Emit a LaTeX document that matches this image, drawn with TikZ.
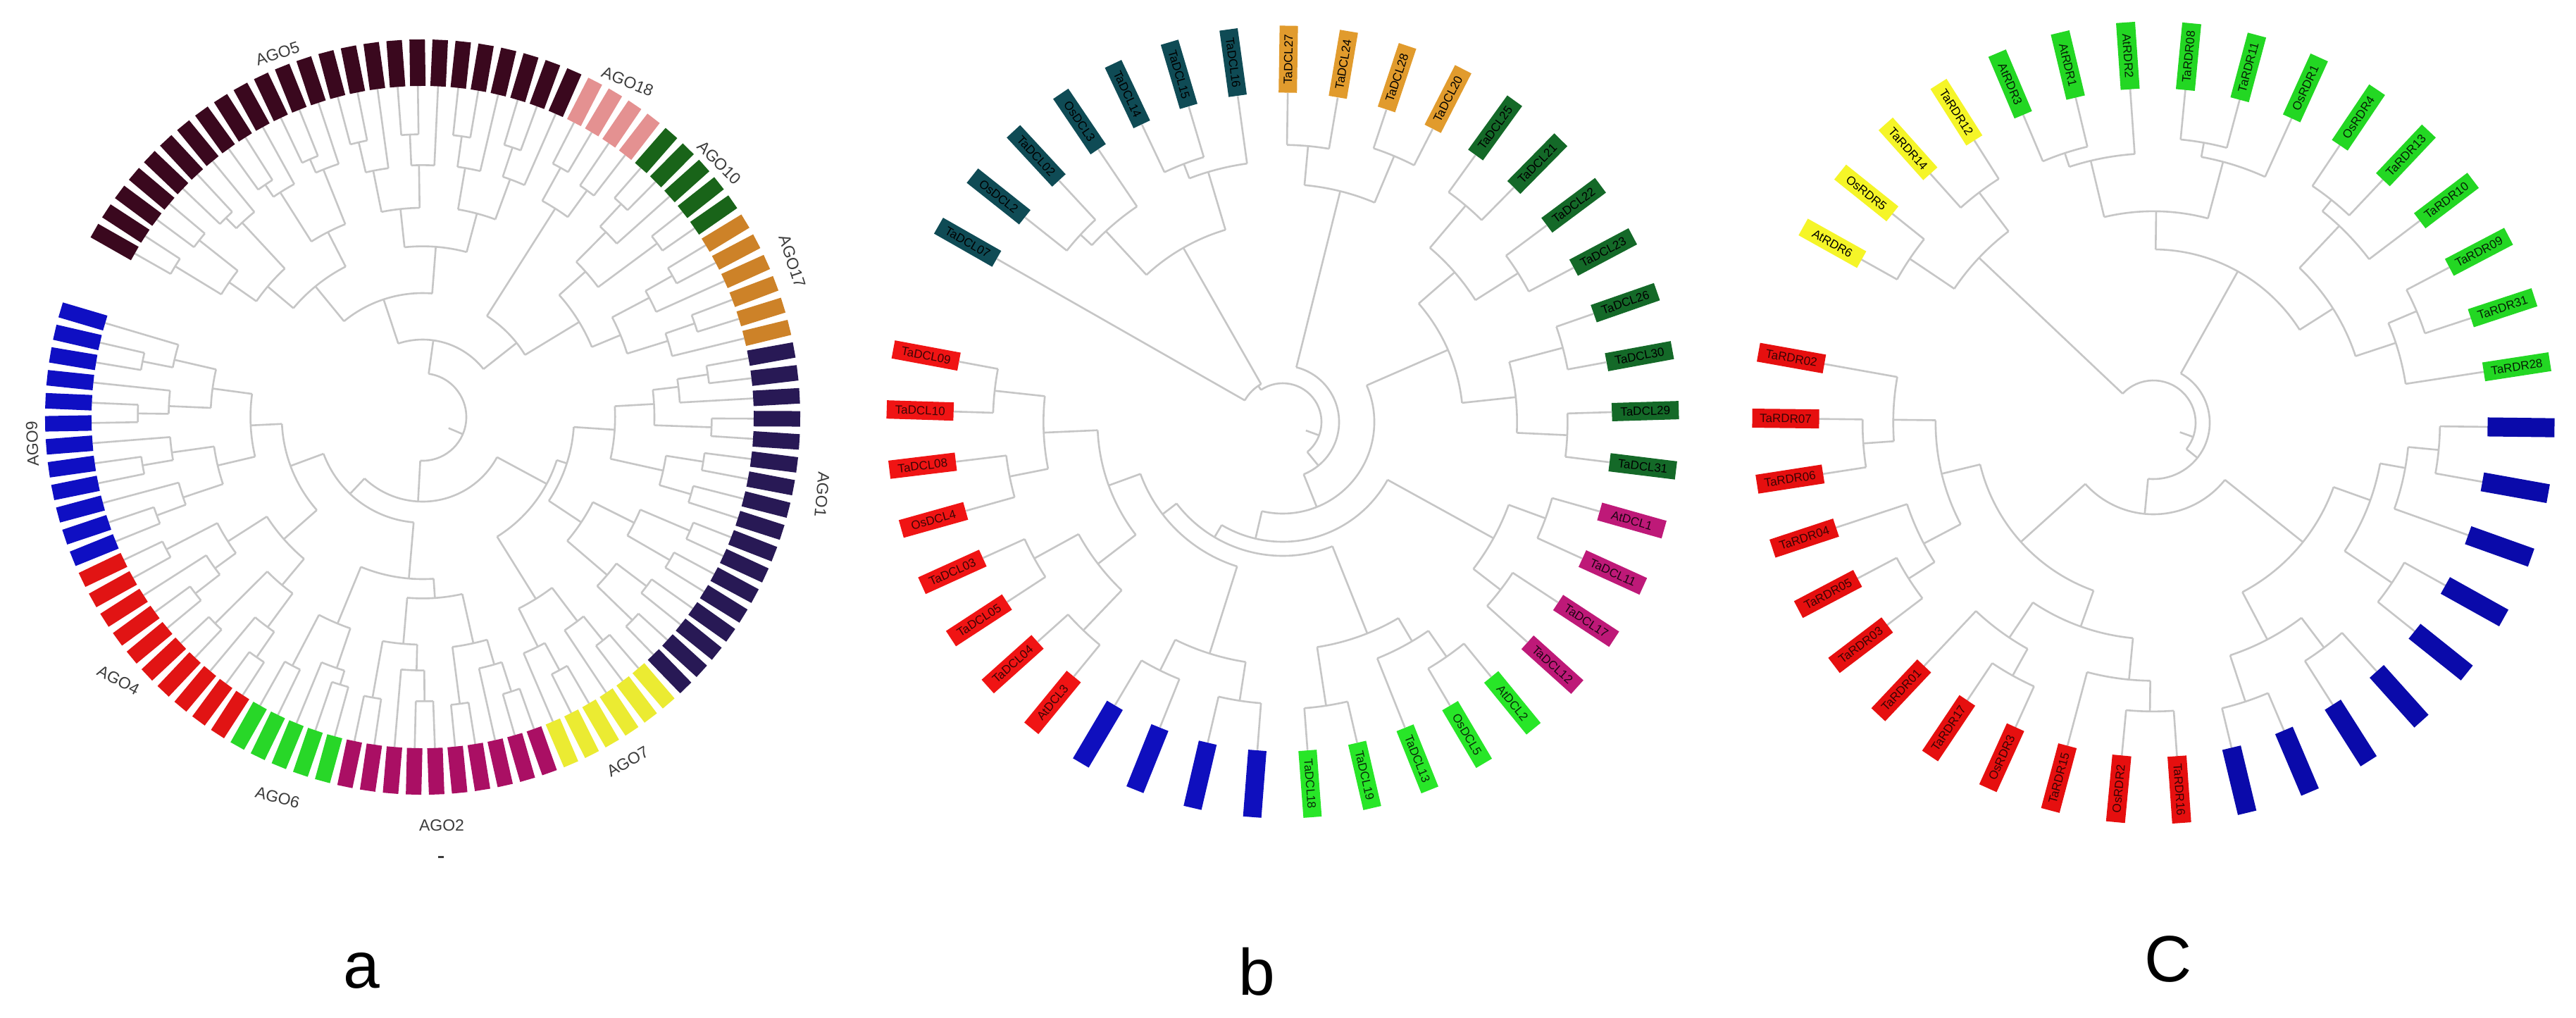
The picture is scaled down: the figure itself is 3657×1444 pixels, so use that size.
\documentclass[tikz,border=0pt]{standalone}
\usepackage{fontspec}
\setmainfont{Liberation Sans}
\definecolor{brgray}{RGB}{198,198,198}
\definecolor{labgray}{RGB}{60,60,60}
\definecolor{agoV}{RGB}{58,8,30}
\definecolor{agoXVIII}{RGB}{228,145,145}
\definecolor{agoX}{RGB}{25,100,25}
\definecolor{agoXVII}{RGB}{205,130,40}
\definecolor{agoI}{RGB}{40,25,85}
\definecolor{agoVII}{RGB}{235,235,50}
\definecolor{agoII}{RGB}{170,15,100}
\definecolor{agoVI}{RGB}{40,215,40}
\definecolor{agoIV}{RGB}{225,20,20}
\definecolor{agoIX}{RGB}{15,15,195}
\definecolor{bteal}{RGB}{15,75,85}
\definecolor{borange}{RGB}{225,155,45}
\definecolor{bdkgreen}{RGB}{20,105,40}
\definecolor{bmagenta}{RGB}{190,25,120}
\definecolor{bgreen}{RGB}{40,230,40}
\definecolor{bblue}{RGB}{15,15,190}
\definecolor{bred}{RGB}{240,20,20}
\definecolor{cyellow}{RGB}{245,245,40}
\definecolor{cgreen}{RGB}{35,215,35}
\definecolor{cblue}{RGB}{10,10,170}
\definecolor{cred}{RGB}{230,15,15}
\tikzset{
  br/.style={draw=brgray, line width=2.6pt},
  boxtext/.style={inner sep=0pt, font=\fontsize{17}{17}\selectfont},
  grouplab/.style={font=\fontsize{23}{23}\selectfont, text=labgray, inner sep=0pt},
  panlab/.style={font=\fontsize{93}{93}\selectfont, inner sep=0pt, anchor=base}
}
% explicit internal node: range #1..#3 split after #2, radius #4, parent radius #5
\newcommand\clade[5]{%
  \pgfmathsetmacro\ca{\pst-(#1+#3)/2*\pstep}%
  \pgfmathsetmacro\caa{\pst-(#1+#2)/2*\pstep}%
  \pgfmathsetmacro\cab{\pst-(#2+1+#3)/2*\pstep}%
  \draw[br] (\ca:#5pt) -- (\ca:#4pt);
  \draw[br] (\caa:#4pt) arc[start angle=\caa, end angle=\cab, radius=#4pt];
}
% recursive subtree over leaves #1..#2 hanging from radius #3
\newcommand\subtree[3]{%
  \ifnum#1=#2\relax
    \pgfmathsetmacro\sa{\pst-#1*\pstep}%
    \draw[br] (\sa:#3pt) -- (\sa:\pleaf pt);
  \else
    \pgfmathtruncatemacro\sk{floor((#1+#2)/2)}%
    \pgfmathsetmacro\sa{\pst-(#1+#2)/2*\pstep}%
    \pgfmathsetmacro\saa{\pst-(#1+\sk)/2*\pstep}%
    \pgfmathsetmacro\sab{\pst-(\sk+1+#2)/2*\pstep}%
    \pgfmathsetmacro\sr{max(#3+15, min(\pleaf-25, \pleaf-\pspan*ln(#2-#1+1)/ln(\pnmax)+mod(#1*37+#2*17,23)-11))}%
    \draw[br] (\sa:#3pt) -- (\sa:\sr pt);
    \draw[br] (\saa:\sr pt) arc[start angle=\saa, end angle=\sab, radius=\sr pt];
    \edef\snext{\noexpand\subtree{#1}{\sk}{\sr}\noexpand\subtree{\the\numexpr\sk+1\relax}{#2}{\sr}}%
    \snext
  \fi}
% coloured leaf box shape: prefix, index, fill
\newcommand\leafshape[3]{%
  \pgfmathsetmacro\la{\pst-#2*\pstep}%
  \pgfmathsetmacro\lrot{cos(\la)>=0 ? \la : \la+180}%
  \begin{scope}[shift={(\la:\pbox pt)}, rotate=\lrot]
    \fill[#3] (-\pblen/2,-\pbw/2) rectangle (\pblen/2,\pbw/2);
  \end{scope}
  \coordinate (#1#2) at (\la:\pbox pt);}
% leaf box with its label: prefix, index, fill, text colour, text
\newcommand\leafbox[5]{%
  \leafshape{#1}{#2}{#3}%
  \node[boxtext, text=#4, rotate=\lrot] (t#1#2) at (#1#2) {#5};}
\begin{document}
\begin{tikzpicture}[x=1pt,y=1pt]
\fill[white] (0,0) rectangle (3657,-1444);
\useasboundingbox (0,0) rectangle (3657,-1444);

%================ panel a ================
\begin{scope}[shift={(600,-592)}]
\def\pst{150.4}\def\pstep{3.504}\def\pleaf{470}\def\pspan{300}\def\pnmax{25}
\def\pbox{503}\def\pblen{66}\def\pbw{22}
\clade{0}{39}{99}{62}{40}
\clade{0}{24}{39}{110}{62}
\subtree{0}{24}{110}
\clade{25}{28}{39}{170}{110}
\subtree{25}{28}{170}
\clade{29}{33}{39}{260}{170}
\subtree{29}{33}{260}
\subtree{34}{39}{260}
\clade{40}{62}{99}{120}{62}
\clade{40}{56}{62}{200}{120}
\subtree{40}{56}{200}
\subtree{57}{62}{200}
\clade{63}{77}{99}{150}{120}
\clade{63}{72}{77}{230}{150}
\subtree{63}{72}{230}
\subtree{73}{77}{230}
\clade{78}{87}{99}{200}{150}
\subtree{78}{87}{200}
\subtree{88}{99}{200}
\foreach \i in {0,...,24} {\leafshape{a}{\i}{agoV}}
\foreach \i in {25,...,28} {\leafshape{a}{\i}{agoXVIII}}
\foreach \i in {29,...,33} {\leafshape{a}{\i}{agoX}}
\foreach \i in {34,...,39} {\leafshape{a}{\i}{agoXVII}}
\foreach \i in {40,...,56} {\leafshape{a}{\i}{agoI}}
\foreach \i in {57,...,62} {\leafshape{a}{\i}{agoVII}}
\foreach \i in {63,...,72} {\leafshape{a}{\i}{agoII}}
\foreach \i in {73,...,77} {\leafshape{a}{\i}{agoVI}}
\foreach \i in {78,...,87} {\leafshape{a}{\i}{agoIV}}
\foreach \i in {88,...,99} {\leafshape{a}{\i}{agoIX}}
\end{scope}
\node[grouplab, rotate=18] (lAGO5) at (394,-76) {AGO5};
\node[grouplab, rotate=-22] (lAGO18) at (891,-116) {AGO18};
\node[grouplab, rotate=-45] (lAGO10) at (1021,-231) {AGO10};
\node[grouplab, rotate=-72] (lAGO17) at (1125,-371) {AGO17};
\node[grouplab, rotate=-95] (lAGO1) at (1167,-702) {AGO1};
\node[grouplab, rotate=30] (lAGO7) at (891,-1081) {AGO7};
\node[grouplab] (lAGO2) at (627,-1172) {AGO2};
\node[grouplab, rotate=-15] (lAGO6) at (394,-1132) {AGO6};
\node[grouplab, rotate=-28] (lAGO4) at (168,-965) {AGO4};
\node[grouplab, rotate=92] (lAGO9) at (46,-630) {AGO9};
\draw[line width=3pt, labgray] (622,-1216) -- (630,-1216);

%================ panel b ================
\begin{scope}[shift={(1821,-599)}]
\def\pst{150.3}\def\pstep{8.74}\def\pleaf{467}\def\pspan{200}\def\pnmax{8}
\def\pbox{515}\def\pblen{95}\def\pbw{26}
\clade{0}{6}{39}{55}{35}
\clade{0}{0}{6}{62}{55}
\draw[br] ({\pst}:62pt) -- ({\pst}:\pleaf pt);
\subtree{1}{6}{62}
\clade{7}{10}{39}{80}{55}
\subtree{7}{10}{80}
\clade{11}{18}{39}{130}{80}
\subtree{11}{18}{130}
\clade{19}{22}{39}{170}{130}
\subtree{19}{22}{170}
\clade{23}{27}{39}{190}{170}
\subtree{23}{27}{190}
\clade{28}{31}{39}{215}{190}
\subtree{28}{31}{215}
\subtree{32}{39}{215}
\foreach \i/\t in {0/TaDCL07,1/OsDCL2,2/TaDCL02,3/OsDCL3,4/TaDCL14,5/TaDCL15,6/TaDCL16}
  {\leafbox{b}{\i}{bteal}{black}{\t}}
\foreach \i/\t in {7/TaDCL27,8/TaDCL24,9/TaDCL28,10/TaDCL20}
  {\leafbox{b}{\i}{borange}{black}{\t}}
\foreach \i/\t in {11/TaDCL25,12/TaDCL21,13/TaDCL22,14/TaDCL23,15/TaDCL26,16/TaDCL30,17/TaDCL29,18/TaDCL31}
  {\leafbox{b}{\i}{bdkgreen}{black}{\t}}
\foreach \i/\t in {19/AtDCL1,20/TaDCL11,21/TaDCL17,22/TaDCL12}
  {\leafbox{b}{\i}{bmagenta}{black!85!bmagenta}{\t}}
\foreach \i/\t in {23/AtDCL2,24/OsDCL5,25/TaDCL13,26/TaDCL19,27/TaDCL18}
  {\leafbox{b}{\i}{bgreen}{black!80!bgreen}{\t}}
\foreach \i in {28,...,31} {\leafshape{b}{\i}{bblue}}
\foreach \i/\t in {32/AtDCL3,33/TaDCL04,34/TaDCL05,35/TaDCL03,36/OsDCL4,37/TaDCL08,38/TaDCL10,39/TaDCL09}
  {\leafbox{b}{\i}{bred}{black!75!bred}{\t}}
\end{scope}

%================ panel c ================
\begin{scope}[shift={(3057,-600)}]
\def\pst{150.8}\def\pstep{9.47}\def\pleaf{475}\def\pspan{230}\def\pnmax{12}
\def\pbox{522}\def\pblen{95}\def\pbw{27}
\clade{0}{3}{36}{60}{40}
\subtree{0}{3}{60}
\clade{4}{15}{36}{80}{60}
\subtree{4}{15}{80}
\clade{16}{24}{36}{130}{80}
\subtree{16}{24}{130}
\subtree{25}{36}{130}
\foreach \i/\t in {0/AtRDR6,1/OsRDR5,2/TaRDR14,3/TaRDR12}
  {\leafbox{c}{\i}{cyellow}{black}{\t}}
\foreach \i/\t in {4/AtRDR3,5/AtRDR1,6/AtRDR2,7/TaRDR08,8/TaRDR11,9/OsRDR1,10/OsRDR4,11/TaRDR13,12/TaRDR10,13/TaRDR09,14/TaRDR31,15/TaRDR28}
  {\leafbox{c}{\i}{cgreen}{black!85!cgreen}{\t}}
\foreach \i in {16,...,24} {\leafshape{c}{\i}{cblue}}
\foreach \i/\t in {25/TaRDR16,26/OsRDR2,27/TaRDR15,28/OsRDR3,29/TaRDR17,30/TaRDR01,31/TaRDR03,32/TaRDR05,33/TaRDR04,34/TaRDR06,35/TaRDR07,36/TaRDR02}
  {\leafbox{c}{\i}{cred}{black!75!cred}{\t}}
\end{scope}

%================ panel letters ================
\node[panlab] (la) at (513,-1402) {a};
\node[panlab] (lb) at (1784,-1412) {b};
\node[panlab] (lc) at (3078,-1393) {C};
\end{tikzpicture}
\end{document}
